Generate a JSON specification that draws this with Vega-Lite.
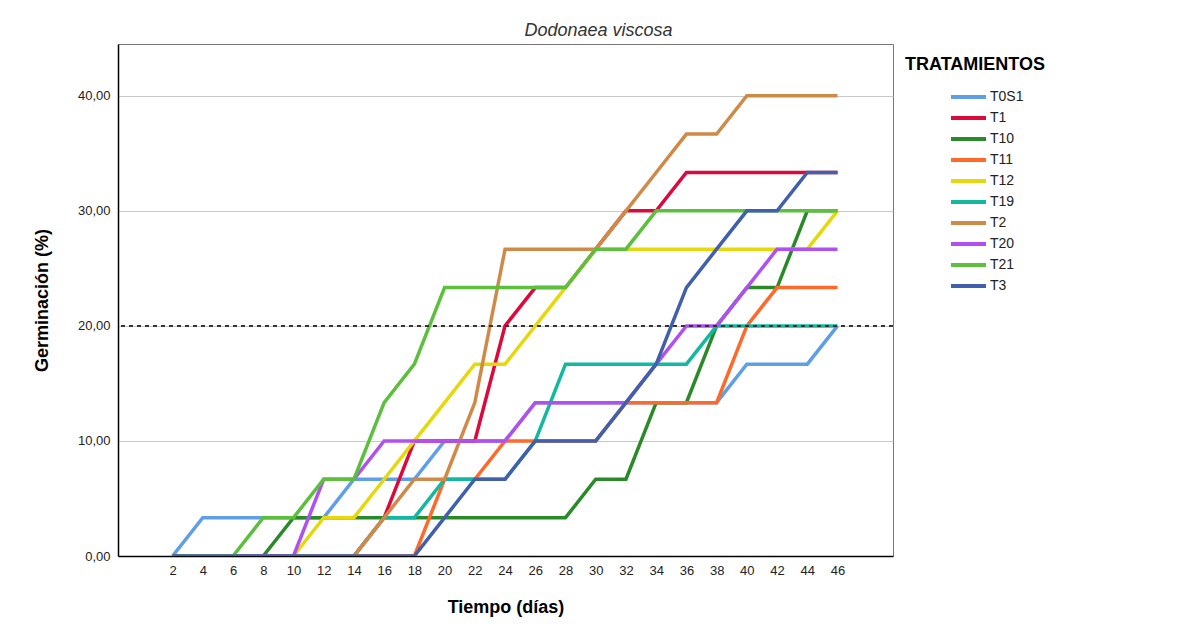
{
 "$schema": "https://vega.github.io/schema/vega-lite/v6.json",
 "width": 775,
 "height": 512,
 "autosize": {"type": "none"},
 "padding": {"left": 118, "top": 44, "right": 295, "bottom": 81},
 "background": "white",
 "title": {"text": "Dodonaea viscosa", "font": "Liberation Sans", "fontSize": 18, "fontStyle": "italic", "fontWeight": "normal", "color": "#333333", "anchor": "middle", "dx": 93, "offset": 4},
 "config": {"view": {"stroke": "#777777", "strokeWidth": 1}, "font": "Liberation Sans"},
 "datasets": {
  "g": [
   {"t":"T0S1","d":2,"g":0},{"t":"T0S1","d":4,"g":3.33},{"t":"T0S1","d":6,"g":3.33},{"t":"T0S1","d":8,"g":3.33},{"t":"T0S1","d":10,"g":3.33},{"t":"T0S1","d":12,"g":3.33},{"t":"T0S1","d":14,"g":6.67},{"t":"T0S1","d":16,"g":6.67},{"t":"T0S1","d":18,"g":6.67},{"t":"T0S1","d":20,"g":10},{"t":"T0S1","d":22,"g":10},{"t":"T0S1","d":24,"g":10},{"t":"T0S1","d":26,"g":13.33},{"t":"T0S1","d":28,"g":13.33},{"t":"T0S1","d":30,"g":13.33},{"t":"T0S1","d":32,"g":13.33},{"t":"T0S1","d":34,"g":13.33},{"t":"T0S1","d":36,"g":13.33},{"t":"T0S1","d":38,"g":13.33},{"t":"T0S1","d":40,"g":16.67},{"t":"T0S1","d":42,"g":16.67},{"t":"T0S1","d":44,"g":16.67},{"t":"T0S1","d":46,"g":20},
   {"t":"T1","d":2,"g":0},{"t":"T1","d":4,"g":0},{"t":"T1","d":6,"g":0},{"t":"T1","d":8,"g":0},{"t":"T1","d":10,"g":0},{"t":"T1","d":12,"g":0},{"t":"T1","d":14,"g":0},{"t":"T1","d":16,"g":3.33},{"t":"T1","d":18,"g":10},{"t":"T1","d":20,"g":10},{"t":"T1","d":22,"g":10},{"t":"T1","d":24,"g":20},{"t":"T1","d":26,"g":23.33},{"t":"T1","d":28,"g":23.33},{"t":"T1","d":30,"g":26.67},{"t":"T1","d":32,"g":30},{"t":"T1","d":34,"g":30},{"t":"T1","d":36,"g":33.33},{"t":"T1","d":38,"g":33.33},{"t":"T1","d":40,"g":33.33},{"t":"T1","d":42,"g":33.33},{"t":"T1","d":44,"g":33.33},{"t":"T1","d":46,"g":33.33},
   {"t":"T10","d":2,"g":0},{"t":"T10","d":4,"g":0},{"t":"T10","d":6,"g":0},{"t":"T10","d":8,"g":0},{"t":"T10","d":10,"g":3.33},{"t":"T10","d":12,"g":3.33},{"t":"T10","d":14,"g":3.33},{"t":"T10","d":16,"g":3.33},{"t":"T10","d":18,"g":3.33},{"t":"T10","d":20,"g":3.33},{"t":"T10","d":22,"g":3.33},{"t":"T10","d":24,"g":3.33},{"t":"T10","d":26,"g":3.33},{"t":"T10","d":28,"g":3.33},{"t":"T10","d":30,"g":6.67},{"t":"T10","d":32,"g":6.67},{"t":"T10","d":34,"g":13.33},{"t":"T10","d":36,"g":13.33},{"t":"T10","d":38,"g":20},{"t":"T10","d":40,"g":23.33},{"t":"T10","d":42,"g":23.33},{"t":"T10","d":44,"g":30},{"t":"T10","d":46,"g":30},
   {"t":"T11","d":2,"g":0},{"t":"T11","d":4,"g":0},{"t":"T11","d":6,"g":0},{"t":"T11","d":8,"g":0},{"t":"T11","d":10,"g":0},{"t":"T11","d":12,"g":0},{"t":"T11","d":14,"g":0},{"t":"T11","d":16,"g":0},{"t":"T11","d":18,"g":0},{"t":"T11","d":20,"g":6.67},{"t":"T11","d":22,"g":6.67},{"t":"T11","d":24,"g":10},{"t":"T11","d":26,"g":10},{"t":"T11","d":28,"g":10},{"t":"T11","d":30,"g":10},{"t":"T11","d":32,"g":13.33},{"t":"T11","d":34,"g":13.33},{"t":"T11","d":36,"g":13.33},{"t":"T11","d":38,"g":13.33},{"t":"T11","d":40,"g":20},{"t":"T11","d":42,"g":23.33},{"t":"T11","d":44,"g":23.33},{"t":"T11","d":46,"g":23.33},
   {"t":"T12","d":2,"g":0},{"t":"T12","d":4,"g":0},{"t":"T12","d":6,"g":0},{"t":"T12","d":8,"g":0},{"t":"T12","d":10,"g":0},{"t":"T12","d":12,"g":3.33},{"t":"T12","d":14,"g":3.33},{"t":"T12","d":16,"g":6.67},{"t":"T12","d":18,"g":10},{"t":"T12","d":20,"g":13.33},{"t":"T12","d":22,"g":16.67},{"t":"T12","d":24,"g":16.67},{"t":"T12","d":26,"g":20},{"t":"T12","d":28,"g":23.33},{"t":"T12","d":30,"g":26.67},{"t":"T12","d":32,"g":26.67},{"t":"T12","d":34,"g":26.67},{"t":"T12","d":36,"g":26.67},{"t":"T12","d":38,"g":26.67},{"t":"T12","d":40,"g":26.67},{"t":"T12","d":42,"g":26.67},{"t":"T12","d":44,"g":26.67},{"t":"T12","d":46,"g":30},
   {"t":"T19","d":2,"g":0},{"t":"T19","d":4,"g":0},{"t":"T19","d":6,"g":0},{"t":"T19","d":8,"g":0},{"t":"T19","d":10,"g":0},{"t":"T19","d":12,"g":0},{"t":"T19","d":14,"g":0},{"t":"T19","d":16,"g":3.33},{"t":"T19","d":18,"g":3.33},{"t":"T19","d":20,"g":6.67},{"t":"T19","d":22,"g":6.67},{"t":"T19","d":24,"g":6.67},{"t":"T19","d":26,"g":10},{"t":"T19","d":28,"g":16.67},{"t":"T19","d":30,"g":16.67},{"t":"T19","d":32,"g":16.67},{"t":"T19","d":34,"g":16.67},{"t":"T19","d":36,"g":16.67},{"t":"T19","d":38,"g":20},{"t":"T19","d":40,"g":20},{"t":"T19","d":42,"g":20},{"t":"T19","d":44,"g":20},{"t":"T19","d":46,"g":20},
   {"t":"T2","d":2,"g":0},{"t":"T2","d":4,"g":0},{"t":"T2","d":6,"g":0},{"t":"T2","d":8,"g":0},{"t":"T2","d":10,"g":0},{"t":"T2","d":12,"g":0},{"t":"T2","d":14,"g":0},{"t":"T2","d":16,"g":3.33},{"t":"T2","d":18,"g":6.67},{"t":"T2","d":20,"g":6.67},{"t":"T2","d":22,"g":13.33},{"t":"T2","d":24,"g":26.67},{"t":"T2","d":26,"g":26.67},{"t":"T2","d":28,"g":26.67},{"t":"T2","d":30,"g":26.67},{"t":"T2","d":32,"g":30},{"t":"T2","d":34,"g":33.33},{"t":"T2","d":36,"g":36.67},{"t":"T2","d":38,"g":36.67},{"t":"T2","d":40,"g":40},{"t":"T2","d":42,"g":40},{"t":"T2","d":44,"g":40},{"t":"T2","d":46,"g":40},
   {"t":"T20","d":2,"g":0},{"t":"T20","d":4,"g":0},{"t":"T20","d":6,"g":0},{"t":"T20","d":8,"g":0},{"t":"T20","d":10,"g":0},{"t":"T20","d":12,"g":6.67},{"t":"T20","d":14,"g":6.67},{"t":"T20","d":16,"g":10},{"t":"T20","d":18,"g":10},{"t":"T20","d":20,"g":10},{"t":"T20","d":22,"g":10},{"t":"T20","d":24,"g":10},{"t":"T20","d":26,"g":13.33},{"t":"T20","d":28,"g":13.33},{"t":"T20","d":30,"g":13.33},{"t":"T20","d":32,"g":13.33},{"t":"T20","d":34,"g":16.67},{"t":"T20","d":36,"g":20},{"t":"T20","d":38,"g":20},{"t":"T20","d":40,"g":23.33},{"t":"T20","d":42,"g":26.67},{"t":"T20","d":44,"g":26.67},{"t":"T20","d":46,"g":26.67},
   {"t":"T21","d":2,"g":0},{"t":"T21","d":4,"g":0},{"t":"T21","d":6,"g":0},{"t":"T21","d":8,"g":3.33},{"t":"T21","d":10,"g":3.33},{"t":"T21","d":12,"g":6.67},{"t":"T21","d":14,"g":6.67},{"t":"T21","d":16,"g":13.33},{"t":"T21","d":18,"g":16.67},{"t":"T21","d":20,"g":23.33},{"t":"T21","d":22,"g":23.33},{"t":"T21","d":24,"g":23.33},{"t":"T21","d":26,"g":23.33},{"t":"T21","d":28,"g":23.33},{"t":"T21","d":30,"g":26.67},{"t":"T21","d":32,"g":26.67},{"t":"T21","d":34,"g":30},{"t":"T21","d":36,"g":30},{"t":"T21","d":38,"g":30},{"t":"T21","d":40,"g":30},{"t":"T21","d":42,"g":30},{"t":"T21","d":44,"g":30},{"t":"T21","d":46,"g":30},
   {"t":"T3","d":2,"g":0},{"t":"T3","d":4,"g":0},{"t":"T3","d":6,"g":0},{"t":"T3","d":8,"g":0},{"t":"T3","d":10,"g":0},{"t":"T3","d":12,"g":0},{"t":"T3","d":14,"g":0},{"t":"T3","d":16,"g":0},{"t":"T3","d":18,"g":0},{"t":"T3","d":20,"g":3.33},{"t":"T3","d":22,"g":6.67},{"t":"T3","d":24,"g":6.67},{"t":"T3","d":26,"g":10},{"t":"T3","d":28,"g":10},{"t":"T3","d":30,"g":10},{"t":"T3","d":32,"g":13.33},{"t":"T3","d":34,"g":16.67},{"t":"T3","d":36,"g":23.33},{"t":"T3","d":38,"g":26.67},{"t":"T3","d":40,"g":30},{"t":"T3","d":42,"g":30},{"t":"T3","d":44,"g":33.33},{"t":"T3","d":46,"g":33.33}
  ]
 },
 "layer": [
  {
   "data": {"name": "g"},
   "mark": {"type": "line", "strokeWidth": 3.5, "clip": true},
   "encoding": {
    "x": {"field": "d", "type": "quantitative",
     "scale": {"domain": [-1.61, 49.67], "nice": false, "zero": false},
     "axis": {"values": [2,4,6,8,10,12,14,16,18,20,22,24,26,28,30,32,34,36,38,40,42,44,46],
      "title": "Tiempo (días)", "grid": false, "ticks": false,
      "domainColor": "#000000", "domainWidth": 1.5,
      "labelFontSize": 13, "labelColor": "#222222", "labelPadding": 8, "labelFlush": false, "labelOverlap": false,
      "titleFontSize": 18, "titleFontWeight": "bold", "titleColor": "#000000", "titlePadding": 21}},
    "y": {"field": "g", "type": "quantitative",
     "scale": {"domain": [0, 44.5], "nice": false},
     "axis": {"values": [0,10,20,30,40], "format": ".2f", "labelExpr": "replace(datum.label, '.', ',')",
      "title": "Germinación (%)", "grid": true, "gridColor": "#c8c8c8", "gridWidth": 1, "ticks": false,
      "domainColor": "#000000", "domainWidth": 1.5,
      "labelFontSize": 13, "labelColor": "#222222", "labelPadding": 8,
      "titleFontSize": 18, "titleFontWeight": "bold", "titleColor": "#000000", "titlePadding": 26}},
    "color": {"field": "t", "type": "nominal",
     "scale": {"domain": ["T0S1","T1","T10","T11","T12","T19","T2","T20","T21","T3"],
      "range": ["#5f9fe8","#dc0a3c","#2a8a2a","#ff6a2a","#e6d80a","#12b8a0","#d08a48","#b150f0","#5cc03c","#4060ac"]},
     "legend": {"title": "TRATAMIENTOS", "titleFontSize": 18, "titleFontWeight": "bold", "titleColor": "#000000", "titleLimit": 300, "titlePadding": 15,
      "symbolType": "stroke", "symbolSize": 1225, "symbolStrokeWidth": 4, "symbolOffset": 44, "labelOffset": 2,
      "labelFontSize": 14, "labelColor": "#222222", "clipHeight": 16, "rowPadding": 5, "offset": 0, "padding": 12}}
   }
  },
  {
   "data": {"values": [{}]},
   "mark": {"type": "rule", "strokeDash": [4, 4], "strokeWidth": 2, "color": "#333333"},
   "encoding": {"y": {"datum": 20, "type": "quantitative"}}
  }
 ]
}
